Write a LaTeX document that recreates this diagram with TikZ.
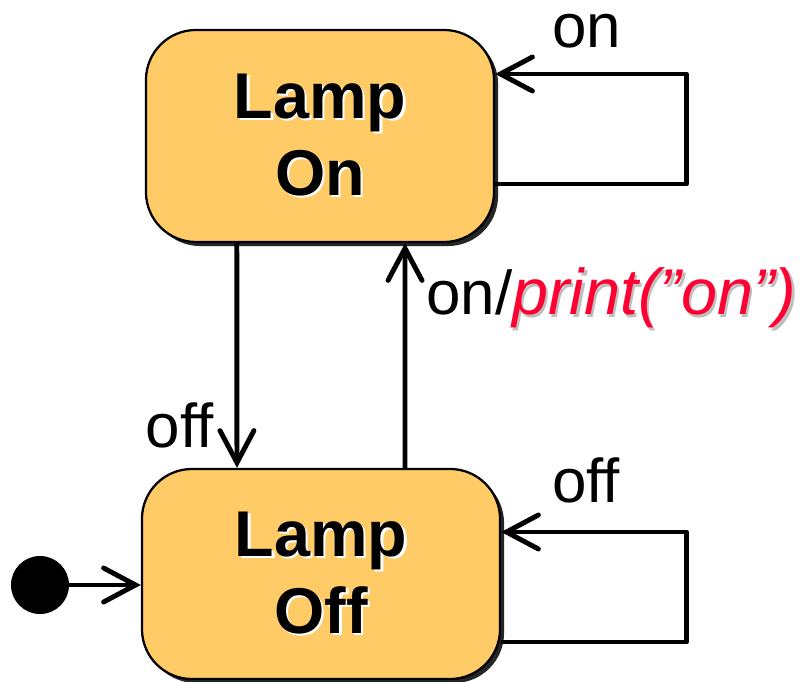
\documentclass[tikz,border=0pt]{standalone}
\usepackage{fontspec}
\setmainfont{Liberation Sans}
\usetikzlibrary{arrows.meta, shadows}

\definecolor{lampfill}{HTML}{FECB66}
\definecolor{actred}{HTML}{FF0033}
% text with a small offset copy behind it
\newcommand{\shadowed}[3]{\makebox[0pt][l]{\hspace{0.06cm}\raisebox{-0.06cm}{\textcolor{#1}{#3}}}\textcolor{#2}{#3}}

\begin{document}
\begin{tikzpicture}[x=0.025cm, y=-0.025cm,
    state/.style={draw=black, line width=1.6pt, fill=lampfill, rounded corners=1.25cm,
        drop shadow={shadow xshift=0.1cm, shadow yshift=-0.1cm, fill=black!85, opacity=1},
        font=\fontsize{46}{55}\selectfont\bfseries, align=center},
    trans/.style={line width=3.5pt, line join=round,
        -{Straight Barb[length=0.8cm, width=0.85cm, line cap=round]}},
    lbl/.style={font=\fontsize{44}{50}\selectfont, inner sep=2pt}]
    \useasboundingbox (0,0) rectangle (802,682);

    \node[state, minimum width=8.7cm, minimum height=5.3cm] (on) at (320,136)
        {\shadowed{white}{black}{Lamp}\\\shadowed{white}{black}{On}};
    \node[state, minimum width=8.95cm, minimum height=5.25cm] (off) at (321,574)
        {\shadowed{white}{black}{Lamp}\\\shadowed{white}{black}{Off}};
    \node[circle, fill=black, minimum size=1.45cm, inner sep=0pt] (init) at (40,585) {};

    \draw[trans] (init) -- (init -| off.west);

    \draw[trans] ([xshift=-2.08cm]on.south) -- ([xshift=-2.1cm]off.north)
        node[lbl, pos=0.81, left=0.45cm] {off};
    \draw[trans] ([xshift=2.1cm]off.north) -- ([xshift=2.125cm]on.south)
        node[lbl, pos=0.75, right=0.4cm] {on/\shadowed{black!25}{actred}{\fontsize{46}{50}\selectfont\itshape print(”on”)}};

    % self loops
    \draw[trans] ([yshift=-1.2cm]on.east) -- ++(191,0) |- ([yshift=1.55cm]on.east)
        node[lbl, pos=0.76, above=0.52cm] {on};
    \draw[trans] ([yshift=-1.7cm]off.east) -- ++(185,0) |- ([yshift=1.05cm]off.east)
        node[lbl, pos=0.77, above=0.58cm] {off};
\end{tikzpicture}
\end{document}
